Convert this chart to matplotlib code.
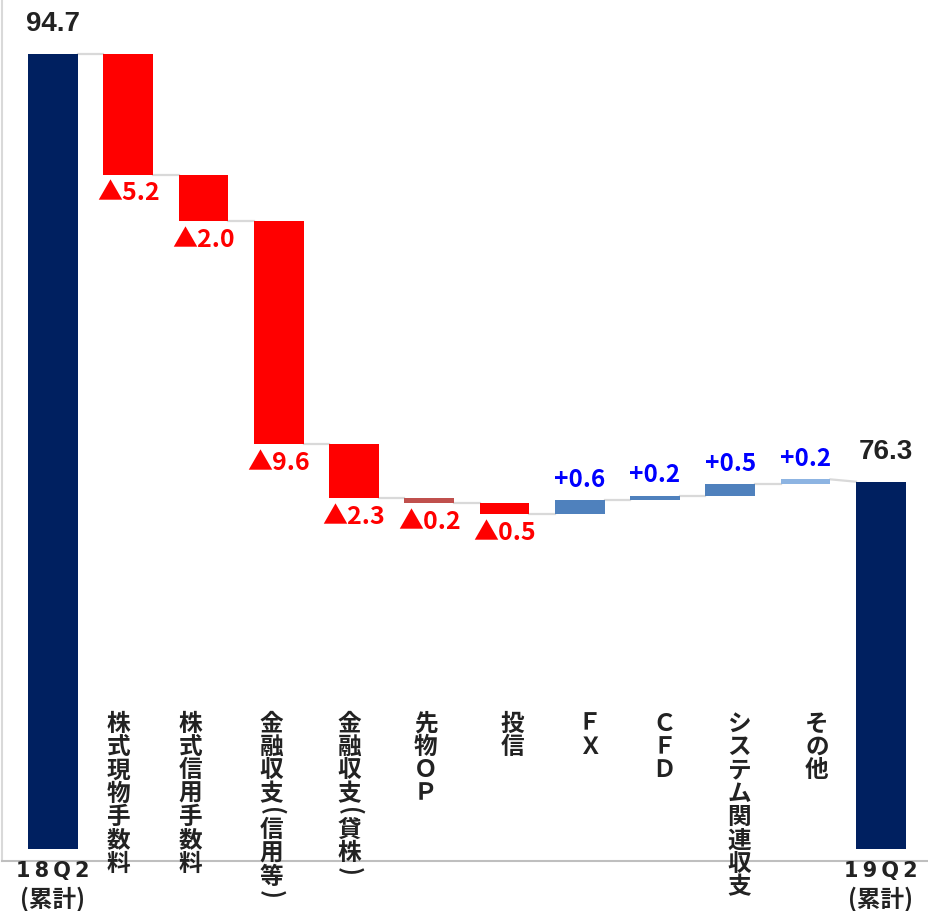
import matplotlib
matplotlib.use("Agg")
import matplotlib.pyplot as plt
import matplotlib.transforms as mtransforms

plt.rcParams['font.family'] = ['Noto Sans CJK JP', 'DejaVu Sans']

# データ（億円）
start_label = ["18Q2", "(累計)"]
end_label = ["19Q2", "(累計)"]
start_value = 94.7
end_value = 76.3
categories = ["株式現物手数料", "株式信用手数料", "金融収支(信用等)", "金融収支(貸株)",
              "先物ＯＰ", "投信", "ＦＸ", "ＣＦＤ", "システム関連収支", "その他"]
deltas = [-5.2, -2.0, -9.6, -2.3, -0.2, -0.5, 0.6, 0.2, 0.5, 0.2]
delta_colors = ["#FF0000", "#FF0000", "#FF0000", "#FF0000", "#C0504D", "#FF0000",
                "#4F81BD", "#4F81BD", "#4F81BD", "#8DB4E2"]

navy = "#002060"
grey = "#D9D9D9"
base = 60.5
w = 0.66

fig = plt.figure(figsize=(9.29, 9.11), dpi=100)
ax = fig.add_axes([2 / 929, 50 / 911, 927 / 929, 861 / 911])

n = len(deltas) + 2
xs = list(range(n))

# 始点・終点の棒
ax.bar(xs[0], start_value - base, bottom=base, width=w, color=navy, linewidth=0)
ax.bar(xs[-1], end_value - base, bottom=base, width=w, color=navy, linewidth=0)

# 増減の棒
levels = [start_value]   # 各棒の終了レベル
starts = [start_value]   # 各棒の開始レベル
cur = start_value
for i, d in enumerate(deltas):
    x = xs[i + 1]
    nxt = cur + d
    ax.bar(x, abs(d), bottom=min(cur, nxt), width=w, color=delta_colors[i], linewidth=0)
    if d < 0:
        ax.annotate("▲%.1f" % abs(d), xy=(x, nxt), xytext=(0, -5), textcoords="offset points",
                    ha="center", va="top", color="#FF0000", fontsize=18, fontweight="bold")
    else:
        ax.annotate("+%.1f" % d, xy=(x, nxt), xytext=(0, 6), textcoords="offset points",
                    ha="center", va="bottom", color="#0000FF", fontsize=17.5, fontweight="bold")
    starts.append(cur)
    levels.append(nxt)
    cur = nxt
starts.append(end_value)
levels.append(end_value)

# コネクタ線
for i in range(n - 1):
    ax.plot([xs[i] + w / 2, xs[i + 1] - w / 2], [levels[i], starts[i + 1]],
            color=grey, linewidth=1.6, zorder=0)

# 合計値ラベル
for x, v in [(xs[0], start_value), (xs[-1] + 0.07, end_value)]:
    ax.annotate("%.1f" % v, xy=(x, v), xytext=(0, 12), textcoords="offset points",
                ha="center", va="bottom", color="#222222", fontsize=20, fontweight="bold",
                family=["Liberation Sans", "DejaVu Sans"])

# 縦書きカテゴリラベル
trans = mtransforms.blended_transform_factory(ax.transData, ax.transAxes)
label_dx = [-0.13, -0.17, -0.1, -0.06, -0.05, 0.1, 0.13, 0.12, 0.12, 0.15]
pitch = 16.8
for i, lab in enumerate(categories):
    pos = 0.0
    for ch in lab:
        paren = ch in "()"
        adv = pitch * (0.55 if paren else 1.0)
        ax.text(xs[i + 1] + label_dx[i], 0.173, ch, transform=trans + mtransforms.ScaledTranslation(
                    0, -(pos + adv / 2) / 72, fig.dpi_scale_trans),
                ha="center", va="center", color="#222222", fontsize=17,
                fontweight="bold", rotation=-90 if paren else 0, rotation_mode="anchor")
        pos += adv

# 下部ラベル
for x, lab in [(xs[0], start_label), (xs[-1], end_label)]:
    ax.text(x, -0.019, "\u2009".join(lab[0]), transform=trans, ha="center", va="baseline",
            fontsize=15, fontweight="bold", color="#222222", family=["DejaVu Sans"])
    ax.text(x, -0.053, lab[1], transform=trans, ha="center", va="baseline",
            fontsize=17, fontweight="bold", color="#222222")

ax.set_xlim(-0.677, n - 1 + 0.64)
ax.set_ylim(60, 97)
ax.set_xticks([])
ax.set_yticks([])
for s in ["top", "right"]:
    ax.spines[s].set_visible(False)
ax.spines["left"].set_color(grey)
ax.spines["bottom"].set_color("#BFBFBF")
ax.spines["left"].set_linewidth(1.5)
ax.spines["bottom"].set_linewidth(1.5)

fig.savefig("out.png", dpi=100)
